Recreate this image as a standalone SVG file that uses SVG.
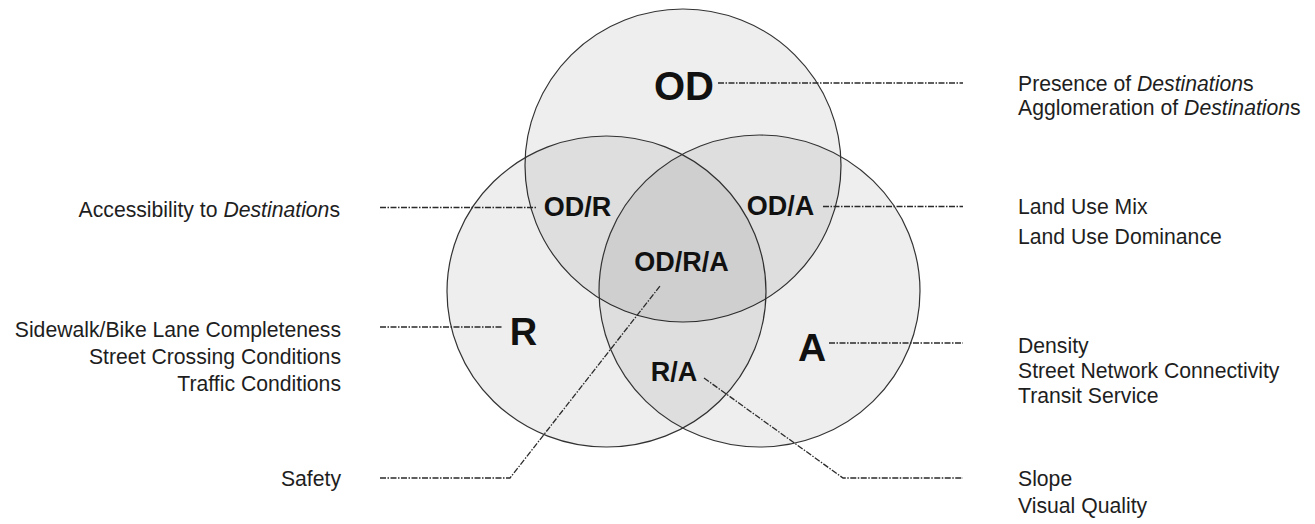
<svg xmlns="http://www.w3.org/2000/svg" width="1315" height="524" viewBox="0 0 1315 524">
<style>
.c{fill:#000;fill-opacity:0.065;stroke:#333;stroke-width:1.2}
.b{font-family:"Liberation Sans",Arial,sans-serif;font-weight:bold;fill:#111;text-anchor:middle}
.t{font-family:"Liberation Sans",Arial,sans-serif;font-size:21.2px;fill:#1e1e1e}
.r{text-anchor:end}
.i{font-style:italic}
.l{fill:none;stroke:#2a2a2a;stroke-width:1.3;stroke-dasharray:6 1.5 1.5 1.5}
</style>
<rect width="1315" height="524" fill="#fff"/>
<g id="circle-OD"><ellipse class="c" cx="683" cy="165.5" rx="158" ry="156.5"/></g>
<g id="circle-R"><ellipse class="c" cx="606.5" cy="291.5" rx="159.5" ry="155.5"/></g>
<g id="circle-A"><ellipse class="c" cx="759.5" cy="291" rx="160.5" ry="156"/></g>
<g id="connectors">
<path class="l" d="M718 83H963"/>
<path class="l" d="M380 207.5H537"/>
<path class="l" d="M823 206.5H963"/>
<path class="l" d="M380 327H503"/>
<path class="l" d="M829 343H963"/>
<path class="l" d="M380 478H510L660 286"/>
<path class="l" d="M704 378L843 478H963"/>
</g>
<g id="label-OD"><text class="b" x="684" y="100" font-size="40">OD</text></g>
<g id="label-ODR"><text class="b" x="577.5" y="216" font-size="27">OD/R</text></g>
<g id="label-ODA"><text class="b" x="780.5" y="215" font-size="27">OD/A</text></g>
<g id="label-ODRA"><text class="b" x="681.5" y="271" font-size="27">OD/R/A</text></g>
<g id="label-R"><text class="b" x="523.5" y="345" font-size="38">R</text></g>
<g id="label-A"><text class="b" x="812" y="361" font-size="39">A</text></g>
<g id="label-RA"><text class="b" x="674" y="381" font-size="27">R/A</text></g>
<g id="text-OD">
<text class="t" x="1018" y="91">Presence of <tspan class="i">Destination</tspan>s</text>
<text class="t" x="1018" y="115">Agglomeration of <tspan class="i">Destination</tspan>s</text>
</g>
<g id="text-ODA">
<text class="t" x="1018" y="214">Land Use Mix</text>
<text class="t" x="1018" y="244">Land Use Dominance</text>
</g>
<g id="text-A">
<text class="t" x="1018" y="353">Density</text>
<text class="t" x="1018" y="378">Street Network Connectivity</text>
<text class="t" x="1018" y="403">Transit Service</text>
</g>
<g id="text-RA">
<text class="t" x="1018" y="486">Slope</text>
<text class="t" x="1018" y="513">Visual Quality</text>
</g>
<g id="text-ODR">
<text class="t r" x="340" y="217">Accessibility to <tspan class="i">Destination</tspan>s</text>
</g>
<g id="text-R">
<text class="t r" x="341" y="337">Sidewalk/Bike Lane Completeness</text>
<text class="t r" x="341" y="364">Street Crossing Conditions</text>
<text class="t r" x="341" y="391">Traffic Conditions</text>
</g>
<g id="text-ODRA">
<text class="t r" x="341" y="486">Safety</text>
</g>
</svg>
